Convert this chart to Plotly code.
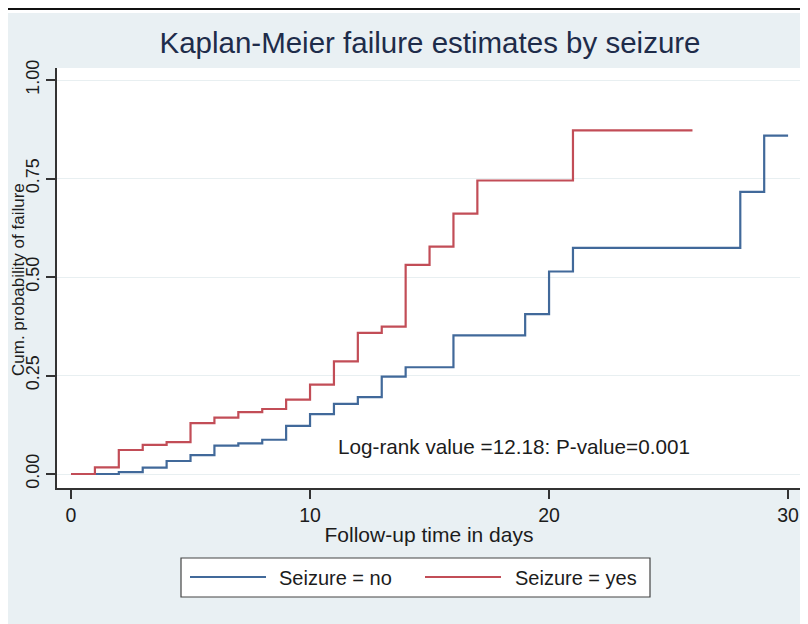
import plotly.graph_objects as go

# ---- data ----
t_no = [0, 2, 3, 4, 5, 6, 7, 8, 9, 10, 11, 12, 13, 14, 16, 19, 20, 21, 28, 29, 30]
f_no = [0, 0.005, 0.016, 0.033, 0.048, 0.072, 0.078, 0.087, 0.122, 0.152, 0.178,
        0.195, 0.247, 0.271, 0.352, 0.406, 0.514, 0.574, 0.716, 0.859, 0.859]
t_yes = [0, 1, 2, 3, 4, 5, 6, 7, 8, 9, 10, 11, 12, 13, 14, 15, 16, 17, 21, 26]
f_yes = [0, 0.017, 0.061, 0.074, 0.081, 0.129, 0.143, 0.157, 0.165, 0.189, 0.227,
         0.286, 0.358, 0.374, 0.531, 0.577, 0.661, 0.745, 0.872, 0.872]
series_names = ["Seizure = no", "Seizure = yes"]
x_ticks = [0, 10, 20, 30]
y_ticks = [0, 0.25, 0.5, 0.75, 1.0]
title_text = "Kaplan-Meier failure estimates by seizure"
x_title = "Follow-up time in days"
y_title = "Cum. probability of failure"
note_text = "Log-rank value =12.18: P-value=0.001"

BLUE = "#41699a"
RED = "#c24d57"
BG = "#e9f0f3"
FONT = "Liberation Sans, Arial, sans-serif"
TXT = "#1c1c1c"

OFF = 8  # page body margin
W, H = 800, 616
L, R, T, B = 49, 7, 60, 136
pw, ph = W - L - R, H - T - B


def px_x(p):  # screen px -> paper x
    return (p - OFF - L) / pw


def px_y(p):  # screen px -> paper y
    return (H - B - (p - OFF)) / ph


fig = go.Figure()
fig.add_trace(go.Scatter(x=t_no, y=f_no, mode="lines", line_shape="hv",
                         line=dict(color=BLUE, width=2.2), name=series_names[0],
                         showlegend=False))
fig.add_trace(go.Scatter(x=t_yes, y=f_yes, mode="lines", line_shape="hv",
                         line=dict(color=RED, width=2.2), name=series_names[1],
                         showlegend=False))

shapes = [
    dict(type="rect", xref="paper", yref="paper", x0=px_x(0), x1=px_x(820),
         y0=px_y(13), y1=px_y(0), fillcolor="white", line_width=0, layer="below"),
    dict(type="line", xref="paper", yref="paper", x0=px_x(0), x1=px_x(820),
         y0=px_y(9), y1=px_y(9), line=dict(color="#111", width=2), layer="below"),
    # legend box
    dict(type="rect", xref="paper", yref="paper", x0=px_x(181), x1=px_x(650),
         y0=px_y(597), y1=px_y(558), fillcolor="white",
         line=dict(color="#444", width=1.2)),
    dict(type="line", xref="paper", yref="paper", x0=px_x(190), x1=px_x(266),
         y0=px_y(577), y1=px_y(577), line=dict(color=BLUE, width=2)),
    dict(type="line", xref="paper", yref="paper", x0=px_x(425), x1=px_x(501),
         y0=px_y(577), y1=px_y(577), line=dict(color=RED, width=2)),
]

annotations = [
    dict(text=series_names[0], xref="paper", yref="paper", x=px_x(277), y=px_y(577.5),
         xanchor="left", yanchor="middle", showarrow=False,
         font=dict(family=FONT, size=20, color=TXT)),
    dict(text=series_names[1], xref="paper", yref="paper", x=px_x(513), y=px_y(577.5),
         xanchor="left", yanchor="middle", showarrow=False,
         font=dict(family=FONT, size=20, color=TXT)),
    dict(text=note_text, xref="x", yref="y", x=11.1, y=0.069,
         xanchor="left", yanchor="middle", showarrow=False,
         font=dict(family=FONT, size=20.7, color=TXT)),
    # y-axis title
    dict(text=y_title, xref="paper", yref="paper", x=px_x(28.5), y=px_y(280),
         xanchor="right", yanchor="middle", textangle=-90, showarrow=False,
         borderpad=0, font=dict(family=FONT, size=17, color=TXT)),
]

fig.update_layout(
    width=W, height=H, autosize=False,
    margin=dict(l=L, r=R, t=T, b=B, pad=0),
    paper_bgcolor=BG, plot_bgcolor="white",
    font=dict(family=FONT, color=TXT),
    title=dict(text=title_text, x=px_x(430), xref="paper", xanchor="center",
               y=1 - (43 - OFF) / H, yref="container", yanchor="middle",
               font=dict(family=FONT, size=29.5, color="#1e2c4a")),
    shapes=shapes, annotations=annotations, showlegend=False,
)
fig.update_xaxes(
    range=[-0.586, 30.54], tickvals=x_ticks, ticks="outside", ticklen=9,
    tickwidth=1.5, tickcolor="#333", showline=True, linecolor="#333", linewidth=1.5,
    showgrid=False, zeroline=False, tickfont=dict(size=19.5, color=TXT),
    title=dict(text=x_title, font=dict(size=21, color=TXT), standoff=2),
    automargin=False,
)
fig.update_yaxes(
    range=[-0.0355, 1.0305], tickvals=y_ticks, tickformat=".2f", tickangle=-90,
    ticks="outside", ticklen=9, tickwidth=1.5, tickcolor="#333",
    showline=True, linecolor="#333", linewidth=1.5,
    showgrid=True, gridcolor="#e8eff1", gridwidth=1, zeroline=False,
    tickfont=dict(size=18, color=TXT),
    automargin=False,
)

fig.write_html("out.html")
